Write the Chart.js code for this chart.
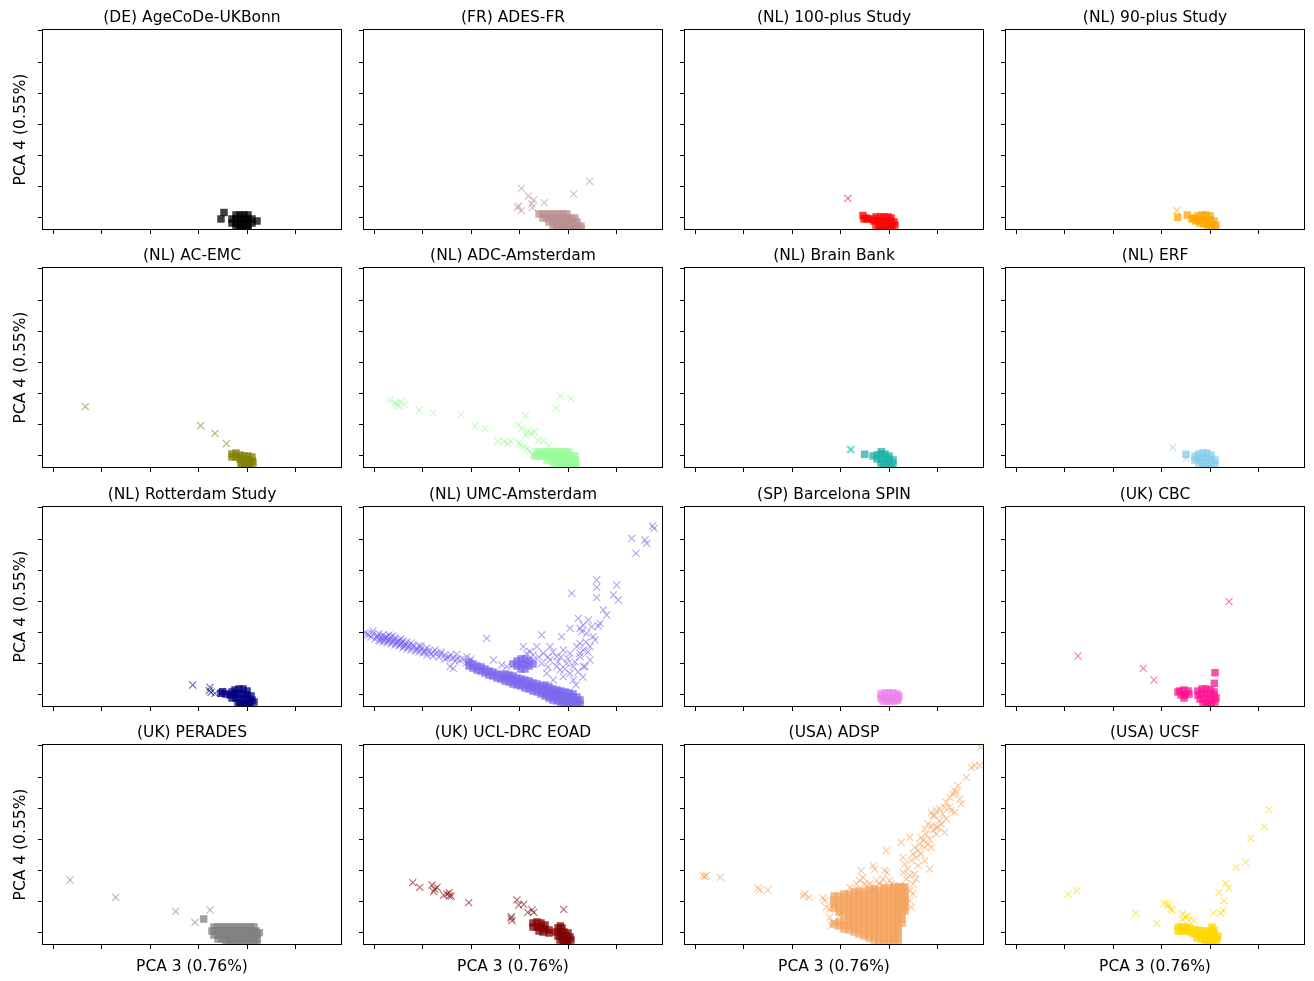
<!DOCTYPE html>
<html><head><meta charset="utf-8">
<script src="https://cdn.jsdelivr.net/npm/chart.js@4.4.0/dist/chart.umd.min.js"></script>
<style>
html,body{margin:0;padding:0;background:#fff;}
body{position:relative;width:1314px;height:981px;overflow:hidden;}
canvas{position:absolute;}
</style>
</head><body>
<script>
// ---- axis ticks (shared by all panels; values in relative PCA units) ----
const xTickValues = [11.2, 59.65, 108.1, 156.55, 205, 253.45];
const yTickValues = [12.4, 43.5, 74.6, 105.7, 136.8, 167.9, 199.0];
const xRange = [0, 300];
const yRange = [0, 201];
const xLabel = 'PCA 3 (0.76%)';
const yLabel = 'PCA 4 (0.55%)';

// ---- panel titles and colours ----
const titles = ['(DE) AgeCoDe-UKBonn','(FR) ADES-FR','(NL) 100-plus Study','(NL) 90-plus Study',
  '(NL) AC-EMC','(NL) ADC-Amsterdam','(NL) Brain Bank','(NL) ERF',
  '(NL) Rotterdam Study','(NL) UMC-Amsterdam','(SP) Barcelona SPIN','(UK) CBC',
  '(UK) PERADES','(UK) UCL-DRC EOAD','(USA) ADSP','(USA) UCSF'];
const colors = ['#000000','#bc8f8f','#ff0000','#ffa500',
  '#808000','#98fb98','#20b2aa','#87ceeb',
  '#000080','#7b68ee','#ee82ee','#ff1493',
  '#808080','#800000','#f4a460','#ffd700'];

// ---- data: [PCA3, PCA4] pairs; sq = square markers, cx = cross markers ----
const ageSq = [[194,15],[198,15],[202,15],[206,15],[190,11],[194,11],[198,11],[202,11],[206,11],[210,11],[190,7],[194,7],[198,7],[202,7],[206,7],[210,7],[194,3],[198,3],[202,3],[206,3],[198,0],[202,0],[206,0],[182,17.5],[179,11],[215,9]];
const ageCx = [];

const adesSq = [[176,16],[180,16],[184,16],[188,16],[192,16],[196,16],[200,16],[204,16],
 [180,12],[184,12],[188,12],[192,12],[196,12],[200,12],[204,12],[208,12],[212,12],
 [186,8],[190,8],[194,8],[198,8],[202,8],[206,8],[210,8],[214,8],
 [190,4],[194,4],[198,4],[202,4],[206,4],[210,4],[214,4],[218,4],
 [194,1],[198,1],[202,1],[206,1],[210,1],[214,1],[218,1]];
const adesCx = [[158.4,41.7],[165.4,34],[170.7,30],[168.6,26],[181.3,27.3],[154.3,22.3],[158.4,19.3],[169.4,22.3],[210.7,36],[226.6,48.7],[155.6,24]];

const plus100Sq = [[179,14.5],[182,12],[180,11],[184,11],[188,11],[192,13],[196,13],[200,13],[204,13],[207,12],[190,9],[194,9],[198,9],[202,9],[206,9],[210,8],[192,5],[196,5],[200,5],[204,5],[208,5],[211,5],[195,1],[199,1],[203,1],[207,1]];
const plus100Cx = [[163.9,31.7]];

const plus90Sq = [[172.7,12.7],[182.3,15],[187,11],[189,12],[191,9],[193,14],[197,15],[201,15],[205,14],[193,10],[197,10],[201,10],[205,10],[209,9],[195,7],[199,6],[203,6],[207,5],[211,5],[203,2],[207,1],[210,1]];
const plus90Cx = [[171.7,19.3]];

const acemcSq = [[190,14],[194,15],[190,11],[194,11],[198,13],[202,12],[206,12],[210,11],[198,9],[202,8],[206,8],[210,7],[199,5],[203,4],[207,4],[211,5],[200,1],[204,1],[208,1]];
const acemcCx = [[43.4,61.3],[158.7,42.3],[173,34.7],[184.4,24.3]];

const adcSq = [[174,16],[178,16],[182,16],[186,16],[190,16],[194,16],[198,16],[202,16],[206,16],
 [172,12],[176,12],[180,12],[184,12],[188,12],[192,12],[196,12],[200,12],[204,12],[208,12],[212,12],
 [184,8],[188,8],[192,8],[196,8],[200,8],[204,8],[208,8],[212,8],
 [190,4],[194,4],[198,4],[202,4],[206,4],[210,4],[213,4],
 [196,1],[200,1],[204,1],[208,1],[212,1]];
const adcCx = [[27,68],[32.4,64.7],[34.1,63],[37.7,66.3],[41.3,63.7],[35.9,62],[56.3,58],[69.9,55.3],[97.7,53.3],[112,42],[122,39.7],
 [134.9,26.7],[141.3,26.7],[144.9,24.7],[147.7,26.3],[155.6,43],[159.1,39.7],[162.7,52.3],[164.5,36.3],[168.1,34.7],[171.6,36.3],[162.7,33],
 [157.4,23],[161,21.3],[164.5,19.7],[155.6,24.7],[175.2,27.3],[180.6,27.3],[185.9,22],[169.9,13],[166.3,16.3],[197.7,72],[208.1,69],[193.1,59.7]];

const brainSq = [[180.7,13.7],[197.3,16.3],[189,12],[193,13],[197,14],[201,14],[205,12],[193,9],[197,9],[201,9],[205,9],[209,8],[197,5],[201,5],[205,5],[209,4],[199,1],[203,1],[207,1]];
const brainCx = [[166,18.7],[167.5,18.3]];

const erfSq = [[181,13.7],[190,12],[194,14],[198,15],[202,15],[206,13],[190,8],[194,9],[198,10],[202,10],[206,9],[210,8],[194,5],[198,5],[202,5],[206,5],[210,4],[198,1],[202,1],[206,1]];
const erfCx = [[167.7,20.7],[181,9.7]];

const rotSq = [[180.7,15.3],[179,13.7],[184,13],[188,12],[190,15],[193,17],[197,18],[201,18],[205,16],[193,13],[197,13],[201,13],[205,12],[209,11],[190,9],[194,9],[198,8],[202,8],[206,8],[210,7],[196,4],[200,4],[204,4],[208,4],[212,5],[198,1],[202,1],[206,1]];
const rotCx = [[150.7,22],[168,19.7],[169,14.7],[173,13.7],[167.3,16.3]];

const umcSq = [[106,41],[106,45],[110,39],[110,43],[114,37],[114,41],[118,36],[118,40],[122,34],[122,38],[126,32],[126,36],[130,31],[130,35],[134,29],[134,33],[138,28],[138,32],
 [142,26],[142,30],[142,33],[146,25],[146,29],[146,32],[150,23],[150,27],[150,31],[154,22],[154,26],[154,29],[158,21],[158,25],[158,28],[162,19],[162,23],[162,27],
 [166,18],[166,22],[166,26],[170,16],[170,20],[170,24],[174,15],[174,19],[174,23],[178,13],[178,17],[178,21],[182,11],[182,15],[182,19],[182,22],
 [186,9],[186,13],[186,17],[186,20],[190,7],[190,11],[190,15],[190,18],[194,6],[194,10],[194,14],[194,17],[198,4],[198,8],[198,12],[198,16],
 [202,3],[202,7],[202,11],[202,15],[206,2],[206,6],[206,10],[206,14],[210,2],[210,6],[210,10],[210,13],[214,2],[214,6],[214,10],[217,3],[217,7],
 [150,43],[154,46],[158,48],[162,48],[166,46],[170,43],[154,41],[158,43],[162,43],[166,41],[158,38],[162,38]];
const umcCx = [[2,74],[6,72],[10,73],[14,71],[18,70],[22,68],[26,67],[30,66],[34,65],[38,64],[42,63],[46,61],[50,60],[54,59],[58,58],[62,57],[66,56],[70,55],[74,54],[78,53],[82,52],[86,50],[90,49],[94,48],
 [12,68],[16,67],[20,65],[24,64],[28,63],[32,62],[36,61],[40,59],[44,58],[48,57],[52,56],[56,55],[60,54],[64,52],[70,51],[76,50],[82,48],
 [16,73],[20,72],[24,70],[28,70],[32,69],[36,67],[40,66],[48,64],[56,61],[64,59],
 [15,70],[19,68],[23,69],[27,68],[31,67],[35,65],[39,64],[43,62],[17,66],[21,67],[25,66],[29,65],[33,64],[37,63],[41,61],[45,60],
 [30,71],[26,72],[22,70],[38,68],[44,65],[50,62],[54,57],[58,61],[62,55],[68,53],[72,57],[78,55],[84,49],[88,52],[92,46],[8,70],[4,73],[10,76],
 [87,40.3],[90.3,38.7],[100,48],[104,50],[103,44],[108,48],
 [123.7,68.7],[178.7,72],[198.7,70.3],[208.7,113.7],[215.3,88.7],[220.3,57],[225.3,87],[233.7,127],[233.7,119.7],[233.7,109.3],[237,83.7],[240.3,97],[243.7,92],
 [250.3,112],[253.7,122],[255.3,107],[268.7,168.7],[273,153.7],[282,167],[283.7,163.7],[289.7,181],[291,178.7],
 [187,60.3],[193.7,50.3],[203.7,43.7],[210.3,40.3],[220.3,40.3],[227,47],[217,63.7],[223.7,73.7],[230.3,70.3],[167,55.3],[173.7,60.3],[180.3,53.7],[187,47],
 [200.3,57],[207,53.7],[217,50.3],[222,40.3],[193.7,40.3],[200.3,30.3],[160.3,60.3],[163.7,53.7],[170.3,47],[178.7,43.7],[183.7,33.7],[190.3,27],[197,37],
 [207,33.7],[210.3,27],[217,53.7],[213.7,60.3],[218.7,75.3],[227,60.3],[232,67],[220.3,82],[207,78.7],[217,78.7],[228.7,80.3],[235.3,81],
 [97,47],[93.7,52.7],[130.3,47],[138.7,42],[143.7,40.3],
 [185,50],[195,45],[205,48],[212,45],[215,35],[202,38],[190,55],[198,50],[220,30],[213,22],[185,40],[176,50],[170,52],[225,55],[223,65]];

const spinSq = [[197,13],[201,14],[205,14],[209,14],[213,13],[197,9],[201,9],[205,9],[209,9],[213,9],[215,11],[199,6],[203,6],[207,6],[211,6],[214,7]];
const spinCx = [];

const cbcSq = [[210,34.3],[209.3,23.7],[175,16],[179,17],[183,16],[176,12],[180,12],[184,13],[179,9],[173,15],[193,16],[197,18],[201,18],[205,17],[209,15],[193,12],[197,13],[201,13],[205,13],[209,12],[211,9],[195,8],[199,8],[203,8],[207,8],[210,5],[198,4],[202,4],[206,4],[202,1],[206,2]];
const cbcCx = [[224,105.3],[73,51],[138.3,38.7],[149,27]];

const peradesSq = [[161.7,26],[217.3,12.3],
 [172,18],[176,18],[180,18],[184,18],[188,18],[192,18],[196,18],[200,18],[204,18],[208,18],[212,18],
 [170,14],[174,14],[178,14],[182,14],[186,14],[190,14],[194,14],[198,14],[202,14],[206,14],[210,14],[214,14],
 [172,10],[176,10],[180,10],[184,10],[188,10],[192,10],[196,10],[200,10],[204,10],[208,10],[212,10],[215,10],
 [176,6],[180,6],[184,6],[188,6],[192,6],[196,6],[200,6],[204,6],[208,6],[212,6],[215,6],
 [184,2],[188,2],[192,2],[196,2],[200,2],[204,2],[208,2],[212,2],[215,2]];
const peradesCx = [[28,65],[73.7,47.7],[133.7,33.7],[153,22.7],[168,35]];

const uclSq = [[197.3,19],[170,22],[174,23],[178,22],[182,20],[170,18],[174,18],[178,18],[182,16],[186,15],[176,14],[180,13],[186,12],[195,17],[199,17],[193,13],[197,13],[201,13],[205,12],[195,9],[199,9],[203,9],[207,8],[197,5],[201,5],[205,5],[208,5],[200,2],[204,2]];
const uclCx = [[49.7,62.3],[56.7,57.7],[69,60],[71.7,55.7],[74,57.7],[70.7,53.3],[80.7,50],[84,51],[86.3,52.3],[88.3,49],[86.3,49],[105.7,42.3],[154,45],[155.7,40],[160.7,40.7],[164.7,32.7],[169,35],[170.7,32.7],[148.3,28.3],[149,24.3],[148,26.7],[200.7,35.7]];

const adspSq = [[150,21],[150,37],[150,41],[150,45],[150,49],
 [155,19],[155,23],[155,33],[155,37],[155,41],[155,45],[155,49],
 [160,16],[160,20],[160,24],[160,31],[160,35],[160,39],[160,43],[160,47],[160,51],
 [165,15],[165,19],[165,23],[165,27],[165,31],[165,35],[165,39],[165,43],[165,47],[165,51],
 [170,13],[170,17],[170,21],[170,25],[170,29],[170,33],[170,37],[170,41],[170,45],[170,49],[170,53],
 [175,11],[175,15],[175,19],[175,23],[175,27],[175,31],[175,35],[175,39],[175,43],[175,47],[175,51],[175,54],
 [180,9],[180,13],[180,17],[180,21],[180,25],[180,29],[180,33],[180,37],[180,41],[180,45],[180,49],[180,53],
 [185,7],[185,11],[185,15],[185,19],[185,23],[185,27],[185,31],[185,35],[185,39],[185,43],[185,47],[185,51],[185,55],
 [190,5],[190,9],[190,13],[190,17],[190,21],[190,25],[190,29],[190,33],[190,37],[190,41],[190,45],[190,49],[190,53],[190,56],
 [195,3],[195,7],[195,11],[195,15],[195,19],[195,23],[195,27],[195,31],[195,35],[195,39],[195,43],[195,47],[195,51],[195,55],
 [200,2],[200,6],[200,10],[200,14],[200,18],[200,22],[200,26],[200,30],[200,34],[200,38],[200,42],[200,46],[200,50],[200,54],[200,57],
 [205,2],[205,6],[205,10],[205,14],[205,18],[205,22],[205,26],[205,30],[205,34],[205,38],[205,42],[205,46],[205,50],[205,54],[205,57],
 [210,2],[210,6],[210,10],[210,14],[210,18],[210,22],[210,26],[210,30],[210,34],[210,38],[210,42],[210,46],[210,50],[210,54],[210,58],
 [214,2],[214,6],[214,10],[214,14],[214,18],[214,22],[214,26],[214,30],[214,34],[214,38],[214,42],[214,46],[214,50],[214,54],[214,58],
 [218,22],[218,26],[218,30],[218,34],[218,38],[218,42],[218,46],[218,50],[218,54],[218,58],
 [221,34],[221,38],[221,42],[221,46],[221,50],[221,54],[221,58]];
const adspCx = [[19,69.3],[22.3,69.3],[20.7,68.3],[36.3,67.7],[74,57],[75.7,55],[84,55],[120.7,51],[125,47.7],[119,49.3],
 [139,47],[140.7,44.3],[142.3,37.7],[145.7,36],[145.7,27.7],[149,22.7],[147.3,19.3],[155.7,29.3],
 [177.3,74.3],[175.7,64.3],[179,67.7],[180.7,61],[189,79.3],[190.7,76],[185.7,61],[192.3,64.3],[195.7,61],[200.7,74.3],[203,72.7],[199,66],[205.7,64.3],[202.3,94.3],
 [165.7,57.7],[172.3,61],[182.3,59.3],[190.7,57.7],[199,59.3],[207.3,61],[215.7,59.3],[169,54.3],[212.3,54.3],[220.7,57.7],[225.7,54.3],[229,51],[225.7,44.3],[227.3,37.7],
 [217.3,102.7],[225.7,107.7],[219,87.7],[220.7,81],[224,76],[227.3,84.3],[229,91],[232.3,87.7],[230.7,97.7],[234,94.3],[235.7,101],[237.3,107.7],[239,104.3],
 [242.3,111],[244,101],[245.7,106],[247.3,97.7],[240.7,116],[244,121],[247.3,119.3],[249,114.3],[252.3,111],[254,117.7],[255.7,124.3],[250.7,129.3],[252.3,134.3],
 [247.3,132.7],[249,129.3],[255.7,136],[259,131],[262.3,126],[260.7,137.7],[262.3,142.7],[265.7,147.7],[269,151],[270.7,154.3],[272.3,152.7],[274,159.3],
 [275.7,146],[277.3,141],[267.3,134.3],[270.7,132.7],[265.7,137.7],[245.7,76],[234,79.3],[230.7,71],[232.3,66],[229,61],[225.7,69.3],[219,72.7],[222.3,66],
 [237.3,91],[240.7,97.7],[252.3,117.7],[257.3,121],[260.7,112.7],[240.7,84.3],[282.3,167.7],[287.3,177.7],[290.7,179.3],[295.7,179.3],[296.7,197.7]];

const ucsfSq = [[173,18],[177,18],[181,18],[185,17],[173,14],[177,14],[181,14],[185,13],[189,15],[193,15],[197,14],[189,11],[193,11],[197,10],[201,10],[205,10],[209,11],[213,9],[207,18],[209,15],[205,14],[201,14],[192,7],[196,6],[200,6],[204,6],[208,6],[212,6],[200,2],[204,2],[208,2],[211,3]];
const ucsfCx = [[63.3,51],[71.7,54.3],[130.7,32],[151.7,21.7],[159,41.7],[164,39.3],[165.7,36],[167.3,34.3],[162.3,41],[177.3,31],[180.7,27.7],[182.3,29.3],[177.3,26],[189,24.3],[184,24.3],
 [208.3,32],[215.7,32],[218.3,34.3],[219,44.3],[214,52.7],[224,57],[220.7,61.7],[231.3,77.7],[240.7,82.7],[245.7,106.7],[259.3,118.3],[264,135.3]];

const squareSets = [ageSq, adesSq, plus100Sq, plus90Sq, acemcSq, adcSq, brainSq, erfSq, rotSq, umcSq, spinSq, cbcSq, peradesSq, uclSq, adspSq, ucsfSq];
const crossSets  = [ageCx, adesCx, plus100Cx, plus90Cx, acemcCx, adcCx, brainCx, erfCx, rotCx, umcCx, spinCx, cbcCx, peradesCx, uclCx, adspCx, ucsfCx];

// ---- rendering ----
Chart.defaults.font.family = "'DejaVu Sans', sans-serif";
Chart.defaults.color = '#000';

function rgba(hex, a) {
  const n = parseInt(hex.slice(1), 16);
  return `rgba(${(n >> 16) & 255},${(n >> 8) & 255},${n & 255},${a})`;
}
const toPts = arr => arr.map(p => ({ x: p[0], y: p[1] }));

const framePlugin = {
  id: 'frame',
  afterDatasetsDraw(chart) {
    const { ctx, chartArea: a } = chart;
    ctx.save();
    ctx.strokeStyle = '#000';
    ctx.lineWidth = 1;
    ctx.strokeRect(Math.round(a.left) + 0.5, Math.round(a.top) + 0.5,
                   Math.round(a.right - a.left) - 1, Math.round(a.bottom - a.top) - 1);
    ctx.restore();
  }
};

const rowTops = [29, 267, 506, 744];
const PW = 300, PH = 201, TH = 24;

for (let i = 0; i < 16; i++) {
  const r = Math.floor(i / 4), c = i % 4;
  const L = 42 + 321 * c, T = rowTops[r];
  const Wy = c === 0 ? 42 : 12;
  const Hx = r === 3 ? 36 : 8;
  const cv = document.createElement('canvas');
  cv.width = Wy + PW + 3;
  cv.height = TH + PH + Hx;
  cv.style.left = (L - Wy) + 'px';
  cv.style.top = (T - TH) + 'px';
  cv.style.width = cv.width + 'px';
  cv.style.height = cv.height + 'px';
  document.body.appendChild(cv);

  const col = colors[i];
  const gridOpts = { display: true, drawOnChartArea: false, drawTicks: true, tickLength: 4, color: '#000', lineWidth: 1 };
  new Chart(cv, {
    type: 'scatter',
    data: {
      datasets: [
        { label: 'sq', data: toPts(squareSets[i]), pointStyle: 'rect', pointRadius: 5.3, pointHoverRadius: 5.3,
          backgroundColor: rgba(col, 0.75), borderWidth: 0, borderColor: 'rgba(0,0,0,0)', clip: 0 },
        { label: 'x', data: toPts(crossSets[i]), pointStyle: 'crossRot', pointRadius: 5, pointHoverRadius: 5,
          backgroundColor: rgba(col, 0.6), borderColor: rgba(col, 0.6), borderWidth: 1.1, clip: 0 }
      ]
    },
    options: {
      responsive: false, animation: false, devicePixelRatio: 1, events: [],
      layout: { autoPadding: false, padding: { left: 0, right: 3, top: 0, bottom: 0 } },
      plugins: {
        legend: { display: false }, tooltip: { enabled: false },
        title: { display: true, fullSize: false, text: titles[i], color: '#000',
          font: { size: 15.5, weight: 'normal', lineHeight: '20px' }, padding: { top: 3, bottom: 1 } }
      },
      scales: {
        x: { type: 'linear', min: xRange[0], max: xRange[1],
          afterBuildTicks: s => { s.ticks = xTickValues.map(v => ({ value: v })); },
          afterFit: s => { s.height = Hx; },
          ticks: { display: false }, grid: gridOpts, border: { display: false },
          title: { display: r === 3, text: xLabel, color: '#000', font: { size: 15.5, lineHeight: '20px' }, padding: { top: 0, bottom: 4 } } },
        y: { type: 'linear', min: yRange[0], max: yRange[1],
          afterBuildTicks: s => { s.ticks = yTickValues.map(v => ({ value: v })); },
          afterFit: s => { s.width = Wy; },
          ticks: { display: false }, grid: gridOpts, border: { display: false },
          title: { display: c === 0, text: yLabel, color: '#000', font: { size: 15.5, lineHeight: '20px' }, padding: { top: 11, bottom: 0 } } }
      }
    },
    plugins: [framePlugin]
  });
}
</script>
</body></html>
